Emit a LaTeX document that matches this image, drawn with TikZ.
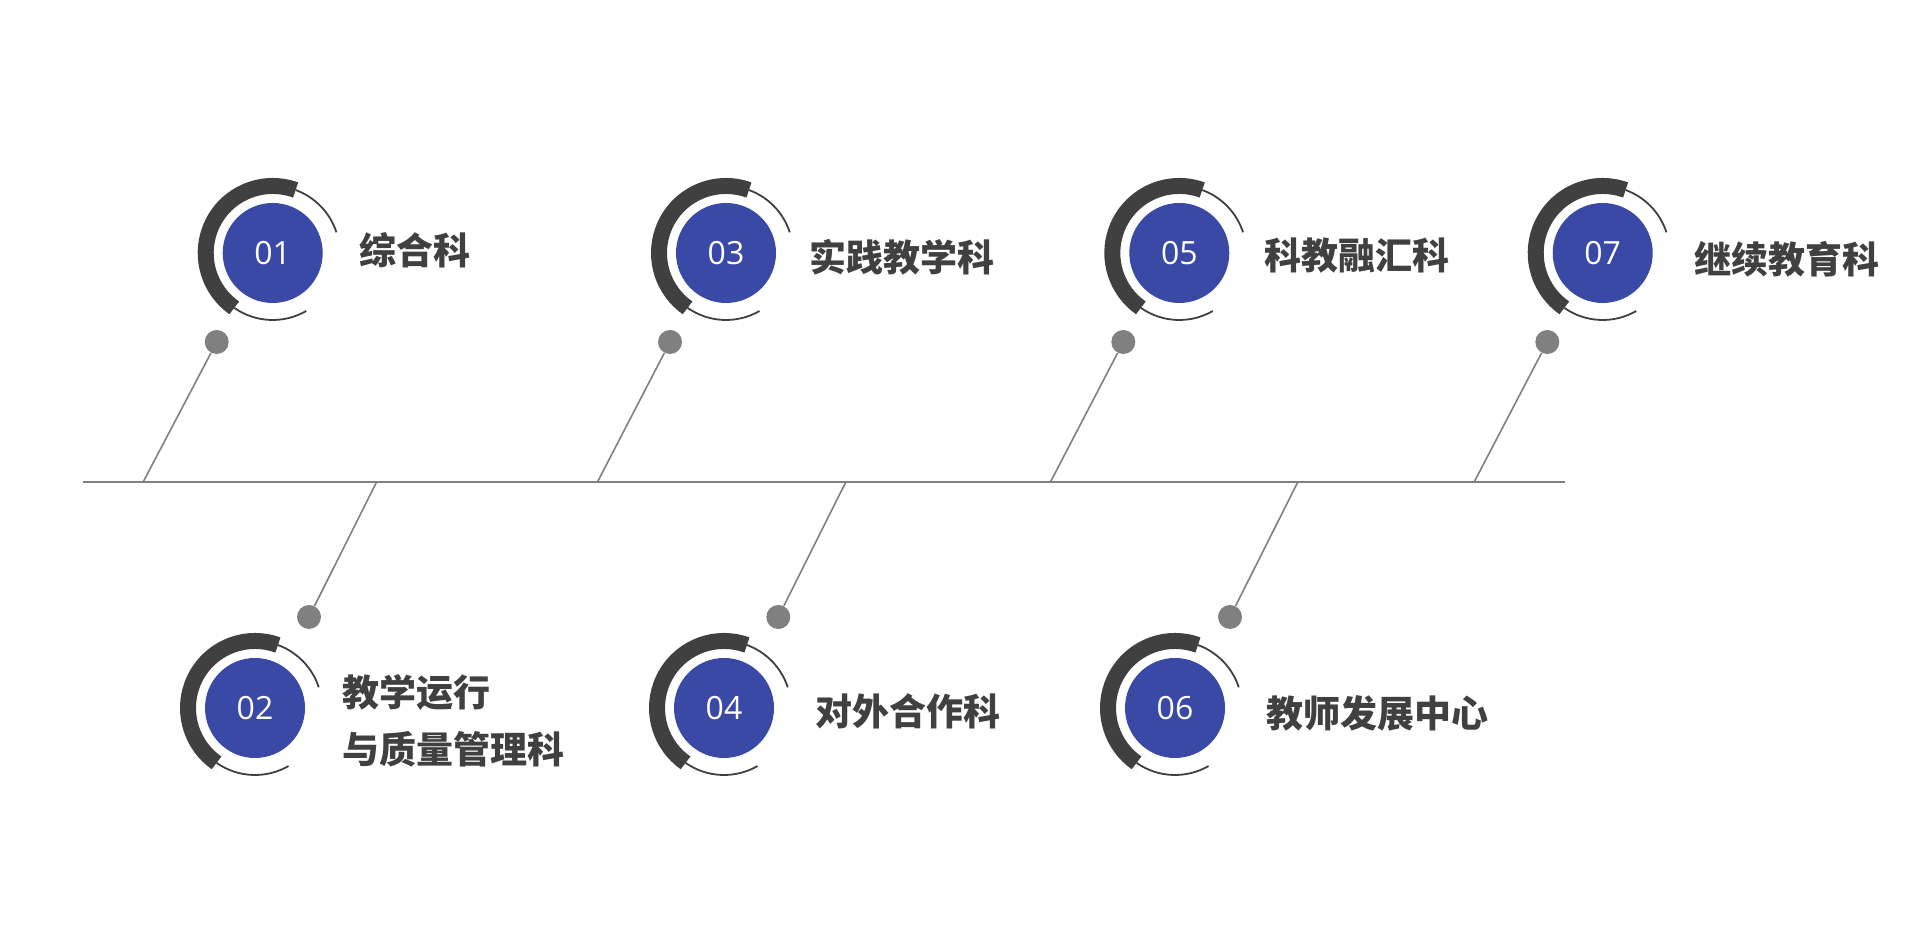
\documentclass[tikz,border=0pt]{standalone}
\usepackage{fontspec}
\usepackage{xcolor}
\usepackage{tikz}
\usetikzlibrary{positioning}
\newfontfamily\cjk{Noto Sans CJK SC}
\newfontfamily\numfont{Open Sans}
\definecolor{badgeblue}{RGB}{57,73,165}
\definecolor{inkgray}{RGB}{64,64,64}
\definecolor{stemgray}{RGB}{128,128,128}

\begin{document}
\begin{tikzpicture}[x=0.5pt,y=0.5pt,
    badge/.style={circle,fill=badgeblue,minimum size=50pt,inner sep=0pt,text=white,
      font=\numfont\fontsize{16}{19}\selectfont},
    knob/.style={circle,fill=stemgray,minimum size=12pt,inner sep=0pt},
    stem/.style={draw=stemgray,line width=0.8pt},
    title/.style={anchor=west,inner sep=0pt,text=inkgray,align=left,
      font=\cjk\bfseries\fontsize{18.5}{28.3}\selectfont},
    ring/.pic={
      \draw[inkgray,line width=8pt] (70:33.5pt) arc (70:235:33.5pt);
      \draw[inkgray,line width=0.9pt] (70:33.5pt) arc (70:18:33.5pt);
      \draw[inkgray,line width=0.9pt] (235:33.5pt) arc (235:300:33.5pt);
    }]
  \useasboundingbox (0,0) rectangle (1920,946);

  % spine
  \coordinate (L) at (83,464.3);
  \coordinate (R) at (1565,464.3);
  \draw[stem,line width=0.9pt] (L) -- (R);

  % upper row
  \node[badge] (n1) at (272.7,693) {01};
  \node[badge] (n3) at (726,693) {03};
  \node[badge] (n5) at (1179.3,693) {05};
  \node[badge] (n7) at (1602.7,693) {07};
  \pic at (n1) {ring};
  \pic at (n3) {ring};
  \pic at (n5) {ring};
  \pic at (n7) {ring};
  \node[title] (t1) at (359,696) {综合科};
  \node[title] (t3) at (809,688.5) {实践教学科};
  \node[title] (t5) at (1264,690) {科教融汇科};
  \node[title] (t7) at (1694,687) {继续教育科};
  \node[knob] (k1) at (216.7,604) {};
  \node[knob] (k3) at (670,604) {};
  \node[knob] (k5) at (1123.3,604) {};
  \node[knob] (k7) at (1547.3,604) {};
  \coordinate (s1) at (143.3,464.3);
  \coordinate (s3) at (597.6,464.3);
  \coordinate (s5) at (1050.6,464.3);
  \coordinate (s7) at (1474.3,464.3);

  % lower row
  \node[badge] (n2) at (255,238) {02};
  \node[badge] (n4) at (724,238) {04};
  \node[badge] (n6) at (1175,238) {06};
  \pic at (n2) {ring};
  \pic at (n4) {ring};
  \pic at (n6) {ring};
  \node[title] (t2) at (342.3,225.2) {教学运行\\与质量管理科};
  \node[title] (t4) at (815,234.3) {对外合作科};
  \node[title] (t6) at (1265.7,232.7) {教师发展中心};
  \node[knob] (k2) at (309,329) {};
  \node[knob] (k4) at (778.3,329) {};
  \node[knob] (k6) at (1230,329) {};
  \coordinate (s2) at (376.7,464.3);
  \coordinate (s4) at (846,464.3);
  \coordinate (s6) at (1298,464.3);

  \path[stem]
    (k1) edge (s1)
    (k3) edge (s3)
    (k5) edge (s5)
    (k7) edge (s7)
    (k2) edge (s2)
    (k4) edge (s4)
    (k6) edge (s6);
\end{tikzpicture}
\end{document}
